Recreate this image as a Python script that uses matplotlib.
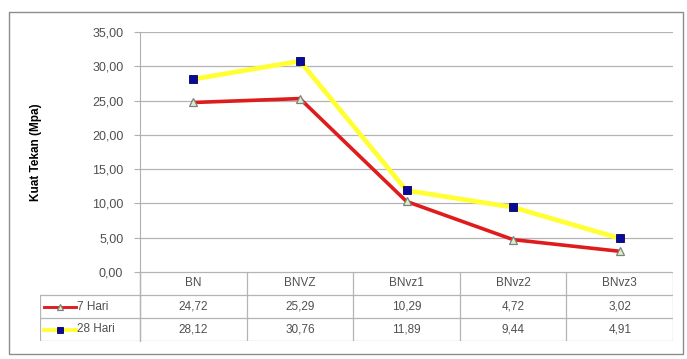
import matplotlib.pyplot as plt
from matplotlib.lines import Line2D
from matplotlib.patches import Rectangle

# compressive strength per mix, two curing ages
categories = ['BN', 'BNVZ', 'BNvz1', 'BNvz2', 'BNvz3']
hari7 = [24.72, 25.29, 10.29, 4.72, 3.02]
hari28 = [28.12, 30.76, 11.89, 9.44, 4.91]
series_names = ['7 Hari', '28 Hari']
yticks = [0, 5, 10, 15, 20, 25, 30, 35]

W, H = 687, 359
fig = plt.figure(figsize=(W / 100, H / 100), dpi=100)
plt.rcParams['font.family'] = ['Liberation Sans', 'DejaVu Sans']

def box(x0, y0, x1, y1):
    # pixel box (top-left origin) -> figure fraction rect
    return [x0 / W, 1 - y1 / H, (x1 - x0) / W, (y1 - y0) / H]

# outer chart frame
fig.patches.append(Rectangle((9 / W, 1 - 354 / H), 674 / W, 342 / H, transform=fig.transFigure,
                             fill=False, edgecolor='#8c8c8c', lw=1.0))

px_left, px_right, px_top, px_bot = 140, 673, 32, 272
ax = fig.add_axes(box(px_left, px_top, px_right, px_bot))
x = list(range(len(categories)))
ax.set_xlim(-0.5, len(categories) - 0.5)
ax.set_ylim(0, 35)
ax.set_yticks(yticks)
ax.set_yticklabels([('%.2f' % v).replace('.', ',') for v in yticks], fontsize=9, color='#505050')
ax.yaxis.set_tick_params(length=4, color='#b0b0b0', width=0.8, pad=8)
ax.set_xticks([])
ax.grid(axis='y', color='#b4b4b4', lw=0.9)
ax.set_axisbelow(True)
for s in ['top', 'right', 'bottom']:
    ax.spines[s].set_visible(False)
ax.spines['left'].set_color('#b0b0b0')
ax.set_ylabel('Kuat Tekan (Mpa)', fontsize=8.5, fontweight='bold', labelpad=36)

st7 = dict(color='#e01b1b', lw=2.6, marker='^', ms=6, mfc='#d8f0c8', mec='#808080', mew=0.9)
st28 = dict(color='#ffff33', lw=3.4, marker='s', ms=6, mfc='#0a0a9a', mec='#000060', mew=0.6)
ax.plot(x, hari28, **st28, zorder=3)
ax.plot(x, hari7, **st7, zorder=4)

# data table under the plot
tb = fig.add_axes(box(40, px_bot, px_right, 341))
colw = (px_right - px_left) / len(categories)
left_x = -0.5 - (px_left - 40) / colw
tb.set_xlim(left_x, len(categories) - 0.5)
tb.set_ylim(3, 0)
tb.axis('off')
grid_kw = dict(color='#b4b4b4', lw=0.9)
for i in range(len(categories) + 1):
    tb.plot([i - 0.5, i - 0.5], [0, 3], **grid_kw)
tb.plot([left_x, left_x], [1, 3], **grid_kw)
tb.plot([-0.5, len(categories) - 0.5], [0, 0], **grid_kw)
for r in (1, 2, 3):
    tb.plot([left_x, len(categories) - 0.5], [r, r], **grid_kw)

for i, c in enumerate(categories):
    tb.text(i, 0.5, c, ha='center', va='center', fontsize=8.5, color='#505050')
for r, (vals, st, name) in enumerate(zip([hari7, hari28], [st7, st28], series_names), start=1):
    for i, v in enumerate(vals):
        tb.text(i, r + 0.5, ('%.2f' % v).replace('.', ','), ha='center', va='center',
                fontsize=8.5, color='#505050')
    lx0 = left_x + 0.04
    lx1 = left_x + 0.34
    tb.add_line(Line2D([lx0, lx1], [r + 0.5, r + 0.5], color=st['color'], lw=st['lw'] * 0.8))
    tb.add_line(Line2D([(lx0 + lx1) / 2], [r + 0.5], ls='none', marker=st['marker'], ms=5,
                       mfc=st['mfc'], mec=st['mec'], mew=st['mew']))
    tb.text(lx1 + 0.01, r + 0.5, name, ha='left', va='center', fontsize=8.5, color='#505050')

# left gridline continues down through the table
fig.add_artist(Line2D([px_left / W, px_left / W], [1 - 341 / H, 1 - px_bot / H],
                      transform=fig.transFigure, color='#b4b4b4', lw=0.9))

fig.savefig('out.png', dpi=100)
